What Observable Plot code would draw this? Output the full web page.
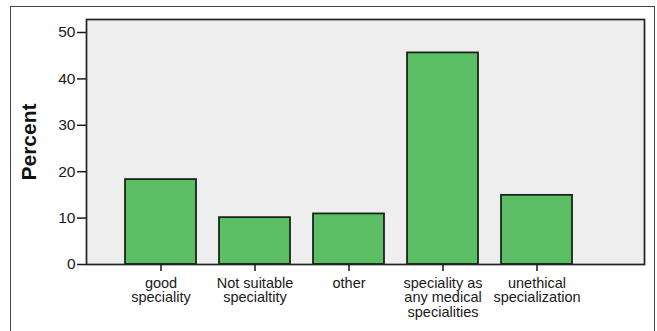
<!DOCTYPE html>
<html>
<head>
<meta charset="utf-8">
<script src="https://cdn.jsdelivr.net/npm/d3@7"></script>
<script src="https://cdn.jsdelivr.net/npm/@observablehq/plot@0.6"></script>
<style>
  html, body { margin: 0; padding: 0; background: #fff; }
  #wrap { position: relative; width: 657px; height: 331px; }
  #border { position: absolute; left: 10px; top: 6px; width: 645px; height: 330px; border: 1px solid #444; box-sizing: border-box; pointer-events: none; }
</style>
</head>
<body>
<div id="wrap"><div id="border"></div></div>
<script>
const categories = ["good speciality", "Not suitable specialtity", "other", "speciality as any medical specialities", "unethical specialization"];
const tickLabels = ["good\nspeciality", "Not suitable\nspecialtity", "other", "speciality as\nany medical\nspecialities", "unethical\nspecialization"];
const percents = [18.3, 10.1, 10.9, 45.6, 14.9];
const yTicks = [0, 10, 20, 30, 40, 50];
const yLabel = "Percent";

const data = categories.map((c, i) => ({category: c, percent: percents[i]}));
const labelOf = new Map(categories.map((c, i) => [c, tickLabels[i]]));

const chart = Plot.plot({
  width: 657,
  height: 331,
  marginLeft: 86,
  marginRight: 13,
  marginTop: 19,
  marginBottom: 67,
  style: {fontFamily: "'Liberation Sans', Arial, sans-serif", background: "transparent", color: "#1a1a1a"},
  x: {domain: categories, range: [112.75, 585.25], paddingInner: 0.24, paddingOuter: 0.12},
  y: {domain: [0, 52.8]},
  marks: [
    Plot.frame({fill: "#eeeeee", stroke: "none"}),
    Plot.barY(data, {x: "category", y: "percent", fill: "#5bbe64", stroke: "#1a261a", strokeWidth: 1.8}),
    Plot.frame({stroke: "#222", strokeWidth: 1.7}),
    Plot.axisY({ticks: yTicks, tickSize: 9, tickPadding: 2, fontSize: 15.5, label: null, strokeWidth: 1.5}),
    Plot.axisX({tickSize: 7, tickPadding: 6, fontSize: 14.5, label: null, tickFormat: d => labelOf.get(d), strokeWidth: 1.5, lineHeight: 1.0}),
    Plot.text([yLabel], {frameAnchor: "left", textAnchor: "middle", rotate: -90, dx: -57, fontSize: 21, fontWeight: "bold", fill: "#111"})
  ]
});
document.getElementById("wrap").prepend(chart);
</script>
</body>
</html>
